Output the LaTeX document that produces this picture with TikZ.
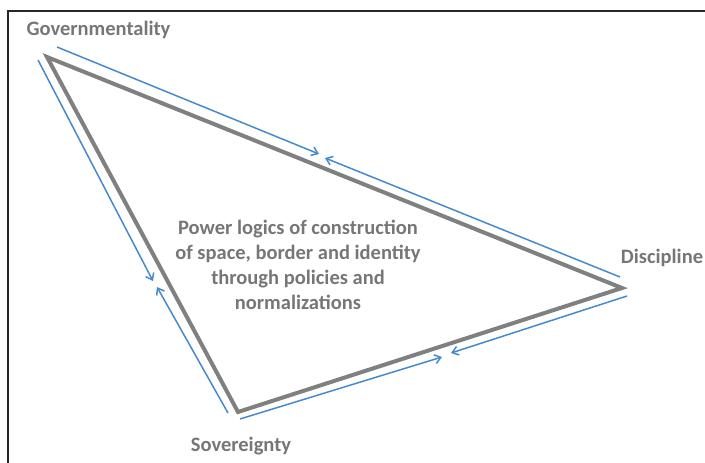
\documentclass[tikz,border=0pt]{standalone}
\usepackage{fontspec}
\setmainfont{Carlito}
\usepackage{xcolor}
\usepackage{tikz}
\usetikzlibrary{arrows.meta}
\definecolor{txtgray}{RGB}{118,118,118}
\definecolor{linegray}{RGB}{128,128,128}
\definecolor{arrblue}{RGB}{70,138,204}

\begin{document}
\begin{tikzpicture}[x=1pt,y=-1pt]
					\tikzstyle{label}=[text=txtgray,font=\fontsize{20.5}{24.8}\selectfont\bfseries,inner sep=0pt]
					\tikzstyle{side}=[draw=linegray,line width=4pt,line join=miter]
					\tikzstyle{flow}=[draw=arrblue,line width=1.5pt,-{Straight Barb[length=6pt,width=9pt]}]
					\useasboundingbox (0,0) rectangle (705,463);
					\draw[line width=2pt,black!85] (7.5,463) -- (7.5,10.5) -- (705,10.5);
					% corners of the triangle
					\coordinate (gov) at (47,57);
					\coordinate (dis) at (622,288);
					\coordinate (sov) at (238,412);
					\node[label](govtext) at (98.5,30){Governmentality};
					\node[label](distext) at (662,258){Discipline};
					\node[label](sovtext) at (241,446){Sovereignty};
					\node[label,align=center](centre) at (298,265){Power logics of construction\\of space, border and identity\\through policies and\\normalizations};
					\draw[side] (gov) -- (dis) -- (sov) -- cycle;
					% blue arrows
					\coordinate (t1) at (57,47);   \coordinate (t2) at (319,154);
					\coordinate (t3) at (620,277); \coordinate (t4) at (325,158);
					\coordinate (l1) at (38,60);   \coordinate (l2) at (153,281);
					\coordinate (l3) at (228,413); \coordinate (l4) at (157,287);
					\coordinate (b1) at (240,419); \coordinate (b2) at (442,357);
					\coordinate (b3) at (627,296); \coordinate (b4) at (451,353);
					\path
						(t1) edge[flow] (t2)
						(t3) edge[flow] (t4)
						(l1) edge[flow] (l2)
						(l3) edge[flow] (l4)
						(b1) edge[flow] (b2)
						(b3) edge[flow] (b4);
				\end{tikzpicture}
\end{document}
